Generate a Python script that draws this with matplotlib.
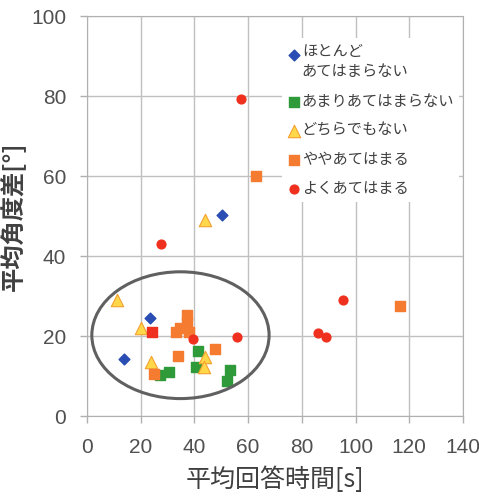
import matplotlib.pyplot as plt
from matplotlib.patches import Ellipse
from matplotlib.legend_handler import HandlerPathCollection

plt.rcParams['font.family'] = ['Noto Sans CJK JP', 'DejaVu Sans']

# data (x: 平均回答時間[s], y: 平均角度差[°])
blue_x = [13.6, 23.6, 50.3]
blue_y = [14.2, 24.4, 50.2]

green_x = [27.0, 30.6, 41.4, 40.6, 53.2, 52.2]
green_y = [10.3, 11.1, 16.3, 12.3, 11.5, 8.8]

yellow_x = [11.1, 20.2, 23.9, 44.1, 43.5, 44.1]
yellow_y = [29.0, 21.9, 13.4, 14.7, 12.3, 49.0]

orange_x = [24.8, 33.8, 47.6, 37.2, 37.2, 34.8, 33.3, 37.9, 62.8, 116.4]
orange_y = [10.5, 15.0, 16.7, 25.2, 23.6, 21.9, 21.1, 21.1, 60.0, 27.6]

red_x = [39.5, 55.7, 57.2, 27.5, 95.4, 86.1, 89.0]
red_y = [19.2, 19.7, 79.2, 43.0, 29.0, 20.7, 19.8]
red_sq_x = [24.2]
red_sq_y = [21.1]

labels = ['ほとんど\nあてはまらない', 'あまりあてはまらない', 'どちらでもない',
          'ややあてはまる', 'よくあてはまる']

fig = plt.figure(figsize=(4.79, 4.97), dpi=100)
ax = fig.add_axes([87/479, 1-416/497, (463-87)/479, 400/497])

sc_blue = ax.scatter(blue_x, blue_y, marker='D', s=30, color='#2a4db3', label=labels[0], zorder=3)
ax.scatter(green_x, green_y, marker='s', s=45, color='#2f9a3a', label=labels[1], zorder=3)
ax.scatter(yellow_x, yellow_y, marker='^', s=80, facecolor='#ffd84a', edgecolor='#f5a030',
           linewidth=0.8, label=labels[2], zorder=3)
ax.scatter(orange_x, orange_y, marker='s', s=45, color='#f47b30', label=labels[3], zorder=3)
ax.scatter(red_x, red_y, marker='o', s=40, color='#f0301e', label=labels[4], zorder=3)
ax.scatter(red_sq_x, red_sq_y, marker='s', s=45, color='#f0301e', zorder=3)

# circled cluster
ell = Ellipse((34.8, 20.2), 66, 31.7, fill=False, edgecolor='#606060', linewidth=2.2, zorder=4)
ax.add_patch(ell)

ax.set_xlim(0, 140)
ax.set_ylim(0, 100)
ax.set_xticks(range(0, 141, 20))
ax.set_yticks(range(0, 101, 20))
ax.grid(True, color='#c0c0c0', linewidth=1.0)
ax.set_axisbelow(True)
for s in ax.spines.values():
    s.set_color('#b0b0b0')
ax.tick_params(colors='#b0b0b0', labelcolor='#505050', labelsize=15, length=5, width=1)
ax.tick_params(axis='x', pad=11)
ax.tick_params(axis='y', pad=10)
for t in ax.get_xticklabels() + ax.get_yticklabels():
    t.set_family(['Liberation Sans', 'DejaVu Sans'])

ax.set_xlabel('平均回答時間[s]', fontsize=18, color='#404040', labelpad=7)
ax.set_ylabel('平均角度差[°]', fontsize=17.5, color='#404040', labelpad=4, fontweight='bold')

leg = ax.legend(loc='upper left', bbox_to_anchor=(282/479, 1-38/497), bbox_transform=fig.transFigure,
                frameon=True, fancybox=False, edgecolor='none', facecolor='white', framealpha=1,
                fontsize=11, labelspacing=0.8, handletextpad=0.0, handlelength=1.0,
                borderpad=0.3, borderaxespad=0,
                handler_map={sc_blue: HandlerPathCollection(yoffsets=[1.2])})
for t in leg.get_texts():
    t.set_color('#404040')
leg.get_texts()[0].set_linespacing(1.3)

fig.savefig('out.png', dpi=100)
